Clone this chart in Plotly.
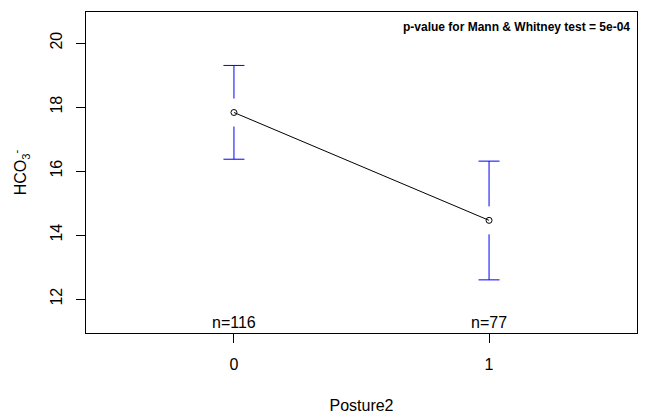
import plotly.graph_objects as go

# Data
groups = [0, 1]
means = [17.83, 14.46]
upper = [19.30, 16.31]
lower = [16.37, 12.60]
counts = ["n=116", "n=77"]
y_ticks = [12, 14, 16, 18, 20]
p_text = "p-value for Mann & Whitney test = 5e-04"

# page body has an 8px margin, so the figure is offset by 8px
W, H = 643, 411
ML, MR, MT, MB = 78, 14, 4, 86
XR = [-0.58, 1.58]
YR = [10.94, 20.97]
plot_h = H - MT - MB
gap = 14 * (YR[1] - YR[0]) / plot_h  # gap around point, in data units

BLUE = "#0000FF"
FONT = "Liberation Sans, Arial, sans-serif"

fig = go.Figure()

# Error bar segments with gap around the point
sx, sy = [], []
for g, m, u, l in zip(groups, means, upper, lower):
    sx += [g, g, None, g, g, None]
    sy += [u, m + gap, None, m - gap, l, None]
fig.add_trace(go.Scatter(x=sx, y=sy, mode="lines",
                         line=dict(color=BLUE, width=1),
                         hoverinfo="skip", showlegend=False))
# Caps
fig.add_trace(go.Scatter(x=groups + groups, y=upper + lower, mode="markers",
                         marker=dict(symbol="line-ew", size=15,
                                     line=dict(color=BLUE, width=1)),
                         hoverinfo="skip", showlegend=False))
# Means line + points
fig.add_trace(go.Scatter(x=groups, y=means, mode="lines+markers",
                         line=dict(color="black", width=1),
                         marker=dict(symbol="circle-open", size=6,
                                     color="black", line=dict(width=1)),
                         showlegend=False))

# n labels
for g, c in zip(groups, counts):
    fig.add_annotation(x=g, y=0, xref="x", yref="paper", text=c,
                       showarrow=False, yanchor="bottom", yshift=0,
                       font=dict(size=16, color="black", family=FONT))

fig.add_annotation(x=1, y=1, xref="paper", yref="paper", text="<b>" + p_text + "</b>",
                   showarrow=False, xanchor="right", yanchor="top",
                   xshift=-5, yshift=-6,
                   font=dict(size=12, color="black", family=FONT))

fig.update_xaxes(range=XR, tickvals=groups, ticktext=[str(g) for g in groups],
                 ticks="outside", ticklen=9, tickcolor="black", tickwidth=1,
                 ticklabelstandoff=8,
                 showline=True, linecolor="black", linewidth=1, mirror=True,
                 showgrid=False, zeroline=False, automargin=False,
                 tickfont=dict(size=16, color="black", family=FONT),
                 title=dict(text="Posture2", standoff=27,
                            font=dict(size=16, color="black", family=FONT)))
fig.update_yaxes(range=YR, tickvals=y_ticks, ticktext=[str(t) for t in y_ticks],
                 ticks="outside", ticklen=9, tickcolor="black", tickwidth=1,
                 tickangle=-90, ticklabelstandoff=8,
                 showline=True, linecolor="black", linewidth=1, mirror=True,
                 showgrid=False, zeroline=False, automargin=False,
                 tickfont=dict(size=16, color="black", family=FONT),
                 title=dict(text="HCO<sub>3</sub><sup>-</sup>", standoff=16,
                            font=dict(size=16, color="black", family=FONT)))

fig.update_layout(width=W, height=H, margin=dict(l=ML, r=MR, t=MT, b=MB),
                  plot_bgcolor="white", paper_bgcolor="white",
                  font=dict(family=FONT, color="black"))

fig.write_html("out.html")
